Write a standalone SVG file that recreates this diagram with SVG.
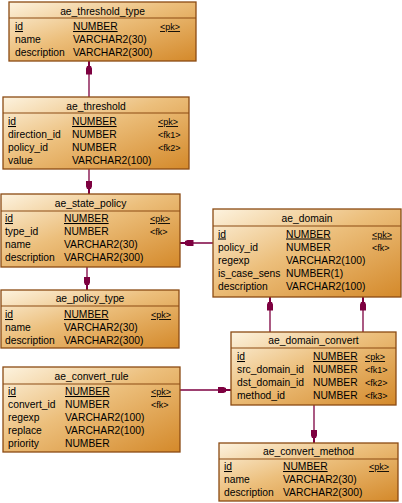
<svg xmlns="http://www.w3.org/2000/svg" width="402" height="503" viewBox="0 0 402 503">
<style>
text{font-family:"Liberation Sans",Arial,sans-serif;font-size:10.3px;fill:#000}
.t{text-anchor:middle}
.u{text-decoration:underline}
.k{font-size:9px}
.box{fill:url(#g);stroke:#8b4b13;stroke-width:1.3}
.sep{stroke:#8b4b13;stroke-width:1.2}
.c{stroke:#7d0040;stroke-width:1.3;fill:none;marker-end:url(#a)}
</style>
<defs>
<linearGradient id="g" x1="0" y1="0" x2="1" y2="1">
<stop offset="0" stop-color="#fdf3df"/>
<stop offset="0.45" stop-color="#ecbf7c"/>
<stop offset="1" stop-color="#d4892a"/>
</linearGradient>
<marker id="a" markerUnits="userSpaceOnUse" viewBox="0 -4 14 8" refX="13.5" refY="0" markerWidth="14" markerHeight="8" orient="auto">
<path d="M0,-3 L6,-3 L8.5,-2 L8.5,-1 L14,-1 L14,1 L8.5,1 L8.5,2 L6,3 L0,3 Z" fill="#7d0040"/>
</marker>
</defs>

<g id="connectors">
<line class="c" x1="89" y1="97" x2="89" y2="61"/>
<line class="c" x1="89" y1="169" x2="89" y2="194"/>
<line class="c" x1="87" y1="267" x2="87" y2="290"/>
<line class="c" x1="213" y1="243" x2="180" y2="243"/>
<line class="c" x1="270" y1="332" x2="270" y2="297"/>
<line class="c" x1="363" y1="332" x2="363" y2="297"/>
<line class="c" x1="180" y1="390" x2="231" y2="390"/>
<line class="c" x1="314" y1="405" x2="314" y2="443"/>
</g>

<g id="ae_threshold_type">
<rect class="box" x="9" y="2" width="187" height="59"/>
<line class="sep" x1="9" y1="18" x2="196" y2="18"/>
<text class="t" x="102.5" y="14.5">ae_threshold_type</text>
<text class="u" x="15" y="30">id</text><text class="u" x="73" y="30">NUMBER</text><text class="u k" x="160" y="30">&lt;pk&gt;</text>
<text x="15" y="43">name</text><text x="73" y="43">VARCHAR2(30)</text>
<text x="15" y="56">description</text><text x="73" y="56">VARCHAR2(300)</text>
</g>

<g id="ae_threshold">
<rect class="box" x="3" y="97" width="186" height="72"/>
<line class="sep" x1="3" y1="113" x2="189" y2="113"/>
<text class="t" x="96" y="109.5">ae_threshold</text>
<text class="u" x="8" y="125">id</text><text class="u" x="72" y="125">NUMBER</text><text class="u k" x="158" y="125">&lt;pk&gt;</text>
<text x="8" y="138">direction_id</text><text x="72" y="138">NUMBER</text><text class="k" x="158" y="138">&lt;fk1&gt;</text>
<text x="8" y="151">policy_id</text><text x="72" y="151">NUMBER</text><text class="k" x="158" y="151">&lt;fk2&gt;</text>
<text x="8" y="164">value</text><text x="72" y="164">VARCHAR2(100)</text>
</g>

<g id="ae_state_policy">
<rect class="box" x="1" y="194" width="179" height="73"/>
<line class="sep" x1="1" y1="211" x2="180" y2="211"/>
<text class="t" x="90.5" y="206.5">ae_state_policy</text>
<text class="u" x="5" y="222">id</text><text class="u" x="64" y="222">NUMBER</text><text class="u k" x="150" y="222">&lt;pk&gt;</text>
<text x="5" y="235">type_id</text><text x="64" y="235">NUMBER</text><text class="k" x="150" y="235">&lt;fk&gt;</text>
<text x="5" y="248">name</text><text x="64" y="248">VARCHAR2(30)</text>
<text x="5" y="261">description</text><text x="64" y="261">VARCHAR2(300)</text>
</g>

<g id="ae_policy_type">
<rect class="box" x="1" y="290" width="178" height="58"/>
<line class="sep" x1="1" y1="306" x2="179" y2="306"/>
<text class="t" x="90" y="302">ae_policy_type</text>
<text class="u" x="5" y="318">id</text><text class="u" x="64" y="318">NUMBER</text><text class="u k" x="151" y="318">&lt;pk&gt;</text>
<text x="5" y="331">name</text><text x="64" y="331">VARCHAR2(30)</text>
<text x="5" y="344">description</text><text x="64" y="344">VARCHAR2(300)</text>
</g>

<g id="ae_convert_rule">
<rect class="box" x="3" y="367" width="177" height="85"/>
<line class="sep" x1="3" y1="384" x2="180" y2="384"/>
<text class="t" x="91.5" y="379.5">ae_convert_rule</text>
<text class="u" x="8" y="395">id</text><text class="u" x="65" y="395">NUMBER</text><text class="u k" x="151" y="395">&lt;pk&gt;</text>
<text x="8" y="408">convert_id</text><text x="65" y="408">NUMBER</text><text class="k" x="151" y="408">&lt;fk&gt;</text>
<text x="8" y="421">regexp</text><text x="65" y="421">VARCHAR2(100)</text>
<text x="8" y="434">replace</text><text x="65" y="434">VARCHAR2(100)</text>
<text x="8" y="447">priority</text><text x="65" y="447">NUMBER</text>
</g>

<g id="ae_domain">
<rect class="box" x="213" y="209" width="188" height="88"/>
<line class="sep" x1="213" y1="226" x2="401" y2="226"/>
<text class="t" x="307" y="221.5">ae_domain</text>
<text class="u" x="218" y="237.5">id</text><text class="u" x="286" y="237.5">NUMBER</text><text class="u k" x="372" y="237.5">&lt;pk&gt;</text>
<text x="218" y="250.5">policy_id</text><text x="286" y="250.5">NUMBER</text><text class="k" x="372" y="250.5">&lt;fk&gt;</text>
<text x="218" y="263.5">regexp</text><text x="286" y="263.5">VARCHAR2(100)</text>
<text x="218" y="276.5">is_case_sens</text><text x="286" y="276.5">NUMBER(1)</text>
<text x="218" y="289.5">description</text><text x="286" y="289.5">VARCHAR2(100)</text>
</g>

<g id="ae_domain_convert">
<rect class="box" x="231" y="332" width="165" height="73"/>
<line class="sep" x1="231" y1="348" x2="396" y2="348"/>
<text class="t" x="313.5" y="344">ae_domain_convert</text>
<text class="u" x="237" y="360">id</text><text class="u" x="313" y="360">NUMBER</text><text class="u k" x="365" y="360">&lt;pk&gt;</text>
<text x="237" y="373">src_domain_id</text><text x="313" y="373">NUMBER</text><text class="k" x="365" y="373">&lt;fk1&gt;</text>
<text x="237" y="386">dst_domain_id</text><text x="313" y="386">NUMBER</text><text class="k" x="365" y="386">&lt;fk2&gt;</text>
<text x="237" y="399">method_id</text><text x="313" y="399">NUMBER</text><text class="k" x="365" y="399">&lt;fk3&gt;</text>
</g>

<g id="ae_convert_method">
<rect class="box" x="219" y="443" width="179" height="58"/>
<line class="sep" x1="219" y1="459" x2="398" y2="459"/>
<text class="t" x="308.5" y="455">ae_convert_method</text>
<text class="u" x="224" y="470">id</text><text class="u" x="283" y="470">NUMBER</text><text class="u k" x="369" y="470">&lt;pk&gt;</text>
<text x="224" y="483">name</text><text x="283" y="483">VARCHAR2(30)</text>
<text x="224" y="496">description</text><text x="283" y="496">VARCHAR2(300)</text>
</g>
</svg>
